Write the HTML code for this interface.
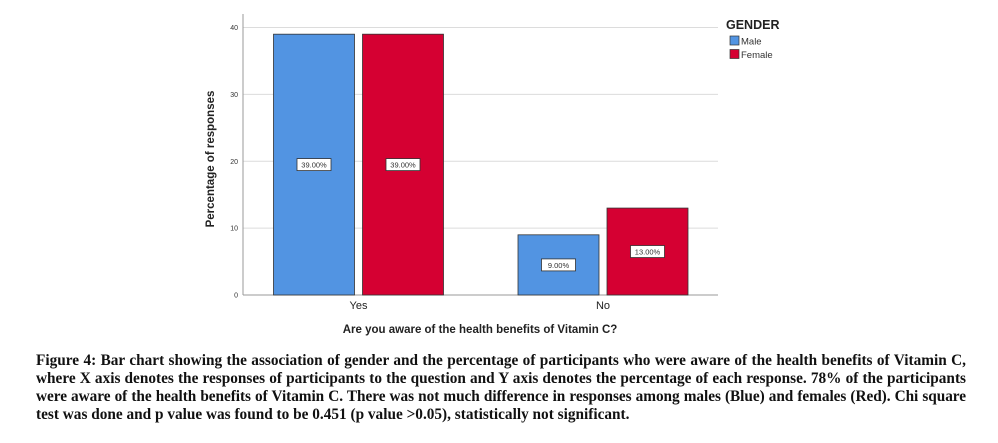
<!DOCTYPE html>
<html><head><meta charset="utf-8"><style>
body{margin:0;width:998px;height:443px;background:#fff;overflow:hidden;position:relative;font-family:"Liberation Sans",sans-serif}
#cap{position:absolute;left:36px;top:352px;width:930px;font-family:"Liberation Serif",serif;font-weight:bold;font-size:15.3px;line-height:18px;color:#111}
#cap div{white-space:nowrap;text-align:justify;text-align-last:justify}
#cap div.last{text-align-last:left}
#cap div.tight{letter-spacing:-0.05px}
</style></head><body>
<svg id="chart" width="998" height="345" style="position:absolute;left:0;top:0" font-family="Liberation Sans, sans-serif"></svg>
<div id="cap">
<div>Figure 4: Bar chart showing the association of gender and the percentage of participants who were aware of the health benefits of Vitamin C,</div>
<div>where X axis denotes the responses of participants to the question and Y axis denotes the percentage of each response. 78% of the participants</div>
<div class="tight">were aware of the health benefits of Vitamin C. There was not much difference in responses among males (Blue) and females (Red). Chi square</div>
<div class="last">test was done and p value was found to be 0.451 (p value &gt;0.05), statistically not significant.</div>
</div>
<script>
const categories=["Yes","No"];
const seriesNames=["Male","Female"];
const maleValues=[39,9];
const femaleValues=[39,13];
const yTicks=[0,10,20,30,40];
const colors=["#5294e2","#d50032"];
const NS="http://www.w3.org/2000/svg";
const svg=document.getElementById('chart');
const x0=243,x1=718,yBase=295,yTop=27.5,yMax=40;
const y=v=>yBase-(v/yMax)*(yBase-yTop);
const catCenter=i=>[358.5,603][i];
const barW=81,gap=8;
function el(t,a,p){const e=document.createElementNS(NS,t);for(const k in a)e.setAttribute(k,a[k]);(p||svg).appendChild(e);return e;}
yTicks.forEach(t=>{
 if(t>0){const g=el('line',{x1:x0,x2:x1,y1:y(t),y2:y(t),stroke:'#dcdcdc','stroke-width':1});
 
 }
 const l=el('text',{x:x0-5,y:y(t)+2.5,'font-size':7,'text-anchor':'end',fill:'#333'});l.textContent=t;
 
 
});
const ax=el('line',{x1:x0,x2:x0,y1:14,y2:yBase,stroke:'#999'});


const bx=el('line',{x1:x0,x2:x1,y1:yBase,y2:yBase,stroke:'#999'});


const series=[maleValues,femaleValues];
categories.forEach((c,i)=>{
 series.forEach((vals,s)=>{
  const v=vals[i];
  const bxl=s===0?catCenter(i)-gap/2-barW:catCenter(i)+gap/2;
  const r=el('rect',{x:bxl,y:y(v),width:barW,height:yBase-y(v),fill:colors[s],stroke:'#333','stroke-width':0.8});
  
  
  const cy=y(v/2);const cx=bxl+barW/2;
  const lb=el('rect',{x:cx-17,y:cy-6,width:34,height:12,fill:'#fff',stroke:'#333','stroke-width':0.8});
  
  
  const tx=el('text',{x:cx,y:cy+3,'font-size':7.5,'text-anchor':'middle',fill:'#333'});tx.textContent=v.toFixed(2)+'%';
  
  
 });
 const ct=el('text',{x:catCenter(i),y:309,'font-size':11,'text-anchor':'middle',fill:'#222'});ct.textContent=c;
 
 
});
const xt=el('text',{x:480,y:333,'font-size':11.5,'font-weight':'bold','text-anchor':'middle',fill:'#222'});xt.textContent='Are you aware of the health benefits of Vitamin C?';


const yt=el('text',{x:0,y:0,'font-size':11.5,'font-weight':'bold','text-anchor':'middle',fill:'#222',transform:'translate(214,159) rotate(-90)'});yt.textContent='Percentage of responses';


const lt=el('text',{x:726,y:29,'font-size':12.5,'font-weight':'bold',fill:'#222'});lt.textContent='GENDER';


seriesNames.forEach((n,s)=>{
 const yy=36+s*13.5;
 const sw=el('rect',{x:730,y:yy,width:9,height:9,fill:colors[s],stroke:'#333','stroke-width':0.7});
 
 
 const t=el('text',{x:741,y:yy+8.5,'font-size':9.5,fill:'#333'});t.textContent=n;
 
 
});
</script>
</body></html>
